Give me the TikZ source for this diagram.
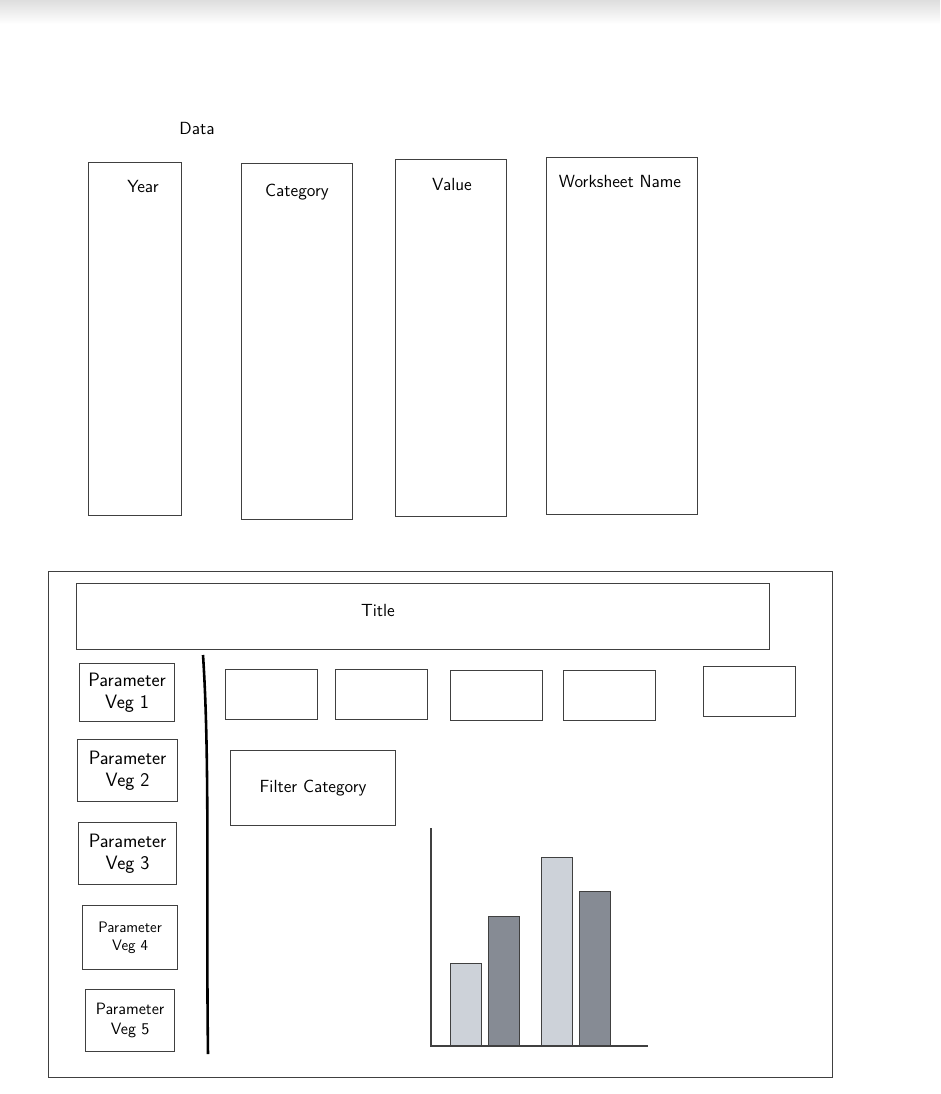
\documentclass[tikz,border=0pt]{standalone}
\usepackage{xcolor}
\usepackage{tikz}
\usetikzlibrary{positioning}
\definecolor{pencil}{HTML}{404040}
\definecolor{barlight}{HTML}{CDD2D9}
\definecolor{bardark}{HTML}{868B94}
\newlength\px
\setlength\px{0.03cm}

\begin{document}
\begin{tikzpicture}[x=0.03cm, y=-0.03cm, line width=1.1pt,
    font=\sffamily\fontsize{15}{17}\selectfont,
    box/.style = {draw=pencil, rectangle, inner sep=0pt, anchor=north west, align=center},
    bar/.style = {draw=black!75, rectangle, inner sep=0pt, anchor=south west, minimum width=31\px}]
    \useasboundingbox (0,0) rectangle (940,1094);
    \shade [top color=black!13, bottom color=white] (0,0) rectangle (940,24);

    \node (data) at (197,128) {Data};

    \node [box, minimum width=93\px,  minimum height=353\px] (year) at (88,162) {};
    \node [box, minimum width=111\px, minimum height=356\px] (cat)  at (241,163) {};
    \node [box, minimum width=111\px, minimum height=357\px] (val)  at (395,159) {};
    \node [box, minimum width=151\px, minimum height=357\px] (ws)   at (546,157) {};
    \node (yearlbl) at (143,186) {Year};
    \node (catlbl)  at (297,192) {Category};
    \node (vallbl)  at (452,184) {Value};
    \node (wslbl)   at (620,181) {Worksheet Name};

    \node [box, minimum width=784\px, minimum height=506\px] (frame) at (48,571) {};
    \node [box, minimum width=693\px, minimum height=66\px]  (title) at (76,583) {};
    \node (titlelbl) at (378,610) {Title};

    \node [box, minimum width=95\px,  minimum height=58\px, font=\sffamily\fontsize{16.5}{19}\selectfont] (p1) at (79,663)  {Parameter\\Veg 1};
    \node [box, minimum width=100\px, minimum height=62\px, font=\sffamily\fontsize{16.5}{19}\selectfont] (p2) at (77,739)  {Parameter\\Veg 2};
    \node [box, minimum width=98\px,  minimum height=62\px, font=\sffamily\fontsize{16.5}{19}\selectfont] (p3) at (78,822)  {Parameter\\Veg 3};
    \node [box, minimum width=95\px,  minimum height=64\px, font=\sffamily\fontsize{13}{16}\selectfont] (p4) at (82,905) {Parameter\\Veg 4};
    \node [box, minimum width=89\px,  minimum height=62\px, font=\sffamily\fontsize{14}{17}\selectfont] (p5) at (85,989) {Parameter\\Veg 5};

    \coordinate (divtop) at (203,655);
    \coordinate (divbot) at (208,1054);
    \draw [black, line width=2.2pt] (divtop) .. controls (210,760) and (206,900) .. (divbot);

    \node [box, minimum width=92\px, minimum height=50\px] (k1) at (225,669) {};
    \node [box, minimum width=92\px, minimum height=50\px] (k2) at (335,669) {};
    \node [box, minimum width=92\px, minimum height=50\px] (k3) at (450,670) {};
    \node [box, minimum width=92\px, minimum height=50\px] (k4) at (563,670) {};
    \node [box, minimum width=92\px, minimum height=50\px] (k5) at (703,666) {};

    \node [box, minimum width=165\px, minimum height=75\px] (filter) at (230,750) {Filter Category};

    \coordinate (ytop) at (431,828);
    \coordinate (origin) at (431,1046);
    \coordinate (xend) at (648,1046);
    \draw [pencil] (ytop) -- (origin) -- (xend);

    \node [bar, fill=barlight, minimum height=82\px]  (b1) at (450,1046) {};
    \node [bar, fill=bardark,  minimum height=129\px] (b2) at (488,1046) {};
    \node [bar, fill=barlight, minimum height=188\px] (b3) at (541,1046) {};
    \node [bar, fill=bardark,  minimum height=154\px] (b4) at (579,1046) {};

\end{tikzpicture}
\end{document}
